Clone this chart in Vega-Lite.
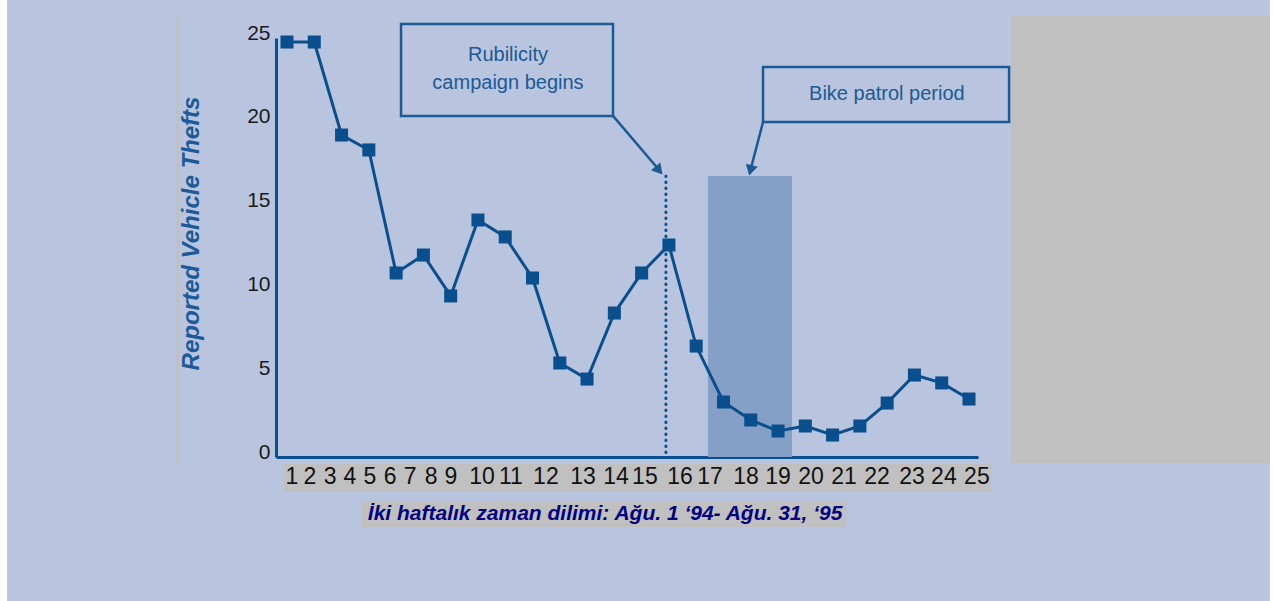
{
  "$schema": "https://vega.github.io/schema/vega-lite/v6.json",
  "width": 702,
  "height": 419,
  "autosize": {"type": "none"},
  "padding": {"left": 276, "top": 38, "right": 295, "bottom": 144},
  "background": "#b9c5df",
  "config": {"view": {"stroke": null}, "text": {"font": "Liberation Sans"}},
  "datasets": {
    "thefts": [
      {"period": 1, "thefts": 24.76},
      {"period": 2, "thefts": 24.76},
      {"period": 3, "thefts": 19.21},
      {"period": 4, "thefts": 18.32},
      {"period": 5, "thefts": 10.98},
      {"period": 6, "thefts": 12.05},
      {"period": 7, "thefts": 9.61},
      {"period": 8, "thefts": 14.14},
      {"period": 9, "thefts": 13.13},
      {"period": 10, "thefts": 10.68},
      {"period": 11, "thefts": 5.61},
      {"period": 12, "thefts": 4.65},
      {"period": 13, "thefts": 8.59},
      {"period": 14, "thefts": 10.98},
      {"period": 15, "thefts": 12.65},
      {"period": 16, "thefts": 6.62},
      {"period": 17, "thefts": 3.28},
      {"period": 18, "thefts": 2.21},
      {"period": 19, "thefts": 1.55},
      {"period": 20, "thefts": 1.85},
      {"period": 21, "thefts": 1.31},
      {"period": 22, "thefts": 1.85},
      {"period": 23, "thefts": 3.22},
      {"period": 24, "thefts": 4.89},
      {"period": 25, "thefts": 4.42},
      {"period": 26, "thefts": 3.46}
    ],
    "xlabels": [
      {"lab": "1", "x": 1.18, "y": -1.19},
      {"lab": "2", "x": 1.84, "y": -1.19},
      {"lab": "3", "x": 2.58, "y": -1.19},
      {"lab": "4", "x": 3.31, "y": -1.19},
      {"lab": "5", "x": 4.04, "y": -1.19},
      {"lab": "6", "x": 4.78, "y": -1.19},
      {"lab": "7", "x": 5.51, "y": -1.19},
      {"lab": "8", "x": 6.28, "y": -1.19},
      {"lab": "9", "x": 7.01, "y": -1.19},
      {"lab": "10", "x": 8.15, "y": -1.19},
      {"lab": "11", "x": 9.21, "y": -1.19},
      {"lab": "12", "x": 10.49, "y": -1.19},
      {"lab": "13", "x": 11.85, "y": -1.19},
      {"lab": "14", "x": 13.06, "y": -1.19},
      {"lab": "15", "x": 14.12, "y": -1.19},
      {"lab": "16", "x": 15.41, "y": -1.19},
      {"lab": "17", "x": 16.51, "y": -1.19},
      {"lab": "18", "x": 17.83, "y": -1.19},
      {"lab": "19", "x": 19.0, "y": -1.19},
      {"lab": "20", "x": 20.21, "y": -1.19},
      {"lab": "21", "x": 21.42, "y": -1.19},
      {"lab": "22", "x": 22.63, "y": -1.19},
      {"lab": "23", "x": 23.91, "y": -1.19},
      {"lab": "24", "x": 25.08, "y": -1.19},
      {"lab": "25", "x": 26.29, "y": -1.19}
    ]
  },
  "layer": [
    {
      "data": {"name": "thefts"},
      "mark": {"type": "line", "color": "#0a4f8d", "strokeWidth": 3, "opacity": 0},
      "encoding": {
        "x": {"field": "period", "type": "quantitative", "scale": {"domain": [0.597, 26.33], "nice": false, "zero": false},
              "axis": {"labels": false, "ticks": false, "grid": false, "title": null, "domainColor": "#0a4f8d", "domainWidth": 3}},
        "y": {"field": "thefts", "type": "quantitative", "scale": {"domain": [0, 25], "nice": false, "zero": false},
              "axis": {"values": [0, 5, 10, 15, 20, 25], "grid": false, "ticks": false, "labelPadding": 6, "labelOffset": -5,
                       "labelFont": "Liberation Sans", "labelFontSize": 21, "labelColor": "#1a1a1a",
                       "domainColor": "#0a4f8d", "domainWidth": 3,
                       "title": "Reported Vehicle Thefts", "titleFont": "Liberation Sans", "titleFontSize": 24,
                       "titleFontWeight": "bold", "titleFontStyle": "italic", "titleColor": "#1d5a98",
                       "titleAngle": 270, "titleBaseline": "middle", "titleAlign": "center", "titleX": -85, "titleY": 195}}
      }
    },
    {
      "data": {"values": [{"x": -9.7, "x2": -9.26, "y": 27.3, "y2": -8.7}, {"x": 37.03, "x2": 37.3, "y": 27.3, "y2": -8.7}]},
      "mark": {"type": "rect", "color": "#ffffff"},
      "encoding": {
        "x": {"field": "x", "type": "quantitative"},
        "x2": {"field": "x2"},
        "y": {"field": "y", "type": "quantitative"},
        "y2": {"field": "y2"}
      }
    },
    {
      "data": {"values": [{"x": 27.54, "x2": 37.03, "y": 26.31, "y2": -0.358}, {"x": 0.89, "x2": 26.84, "y": -0.418, "y2": -2.088}, {"x": 3.75, "x2": 21.49, "y": -2.625, "y2": -4.177}]},
      "mark": {"type": "rect", "color": "#c0c0c0"},
      "encoding": {
        "x": {"field": "x", "type": "quantitative"},
        "x2": {"field": "x2"},
        "y": {"field": "y", "type": "quantitative"},
        "y2": {"field": "y2"}
      }
    },
    {
      "data": {"values": [{"x": -2.995, "y": 26.19, "y2": -0.358}]},
      "mark": {"type": "rule", "color": "#c0c0c0", "strokeWidth": 3},
      "encoding": {
        "x": {"field": "x", "type": "quantitative"},
        "y": {"field": "y", "type": "quantitative"},
        "y2": {"field": "y2"}
      }
    },
    {
      "data": {"values": [{"start": 16.43, "end": 19.51, "top": 16.77, "bottom": 0}]},
      "mark": {"type": "rect", "color": "#85a0c6"},
      "encoding": {
        "x": {"field": "start", "type": "quantitative"},
        "x2": {"field": "end"},
        "y": {"field": "top", "type": "quantitative"},
        "y2": {"field": "bottom"}
      }
    },
    {
      "data": {"values": [{"x": 14.89, "top": 16.77, "bottom": 0}]},
      "mark": {"type": "rule", "color": "#0a4f8d", "strokeWidth": 3, "strokeDash": [0.5, 5.5], "strokeCap": "round"},
      "encoding": {
        "x": {"field": "x", "type": "quantitative"},
        "y": {"field": "top", "type": "quantitative"},
        "y2": {"field": "bottom"}
      }
    },
    {
      "data": {"name": "thefts"},
      "mark": {"type": "line", "color": "#0a4f8d", "strokeWidth": 3},
      "encoding": {
        "x": {"field": "period", "type": "quantitative"},
        "y": {"field": "thefts", "type": "quantitative"}
      }
    },
    {
      "data": {"name": "thefts"},
      "mark": {"type": "point", "shape": "square", "filled": true, "size": 170, "color": "#0a4f8d", "opacity": 1},
      "encoding": {
        "x": {"field": "period", "type": "quantitative"},
        "y": {"field": "thefts", "type": "quantitative"}
      }
    },
    {
      "data": {"values": [{"x": 5.18, "x2": 12.95, "y": 25.84, "y2": 20.35}, {"x": 18.45, "x2": 27.47, "y": 23.27, "y2": 19.99}]},
      "mark": {"type": "rect", "fillOpacity": 0, "stroke": "#1b5a94", "strokeWidth": 2.5},
      "encoding": {
        "x": {"field": "x", "type": "quantitative"},
        "x2": {"field": "x2"},
        "y": {"field": "y", "type": "quantitative"},
        "y2": {"field": "y2"}
      }
    },
    {
      "data": {"values": [{"x": 12.95, "y": 20.35, "x2": 14.68, "y2": 17.05}, {"x": 18.45, "y": 19.99, "x2": 17.97, "y2": 17.0}]},
      "mark": {"type": "rule", "color": "#1b5a94", "strokeWidth": 2.5},
      "encoding": {
        "x": {"field": "x", "type": "quantitative"},
        "x2": {"field": "x2"},
        "y": {"field": "y", "type": "quantitative"},
        "y2": {"field": "y2"}
      }
    },
    {
      "data": {"values": [{"x": 14.64, "y": 17.1}]},
      "mark": {"type": "point", "shape": "triangle-up", "filled": true, "size": 150, "angle": 139.6, "color": "#1b5a94", "opacity": 1},
      "encoding": {
        "x": {"field": "x", "type": "quantitative"},
        "y": {"field": "y", "type": "quantitative"}
      }
    },
    {
      "data": {"values": [{"x": 17.99, "y": 17.1}]},
      "mark": {"type": "point", "shape": "triangle-up", "filled": true, "size": 150, "angle": 194.5, "color": "#1b5a94", "opacity": 1},
      "encoding": {
        "x": {"field": "x", "type": "quantitative"},
        "y": {"field": "y", "type": "quantitative"}
      }
    },
    {
      "data": {"values": [{"note": "Rubilicity", "x": 9.10, "y": 23.99}, {"note": "campaign begins", "x": 9.10, "y": 22.32}, {"note": "Bike patrol period", "x": 22.99, "y": 21.66}]},
      "mark": {"type": "text", "fontSize": 20, "color": "#1b5a94", "align": "center", "baseline": "middle"},
      "encoding": {
        "x": {"field": "x", "type": "quantitative"},
        "y": {"field": "y", "type": "quantitative"},
        "text": {"field": "note"}
      }
    },
    {
      "data": {"name": "xlabels"},
      "mark": {"type": "text", "fontSize": 23, "color": "#111111", "align": "center", "baseline": "middle"},
      "encoding": {
        "x": {"field": "x", "type": "quantitative"},
        "y": {"field": "y", "type": "quantitative"},
        "text": {"field": "lab"}
      }
    },
    {
      "data": {"values": [{"caption": "İki haftalık zaman dilimi: Ağu. 1 ‘94- Ağu. 31, ‘95", "x": 12.66, "y": -3.40}]},
      "mark": {"type": "text", "fontSize": 21, "fontWeight": "bold", "fontStyle": "italic", "color": "#000080", "align": "center", "baseline": "middle"},
      "encoding": {
        "x": {"field": "x", "type": "quantitative"},
        "y": {"field": "y", "type": "quantitative"},
        "text": {"field": "caption"}
      }
    }
  ]
}
